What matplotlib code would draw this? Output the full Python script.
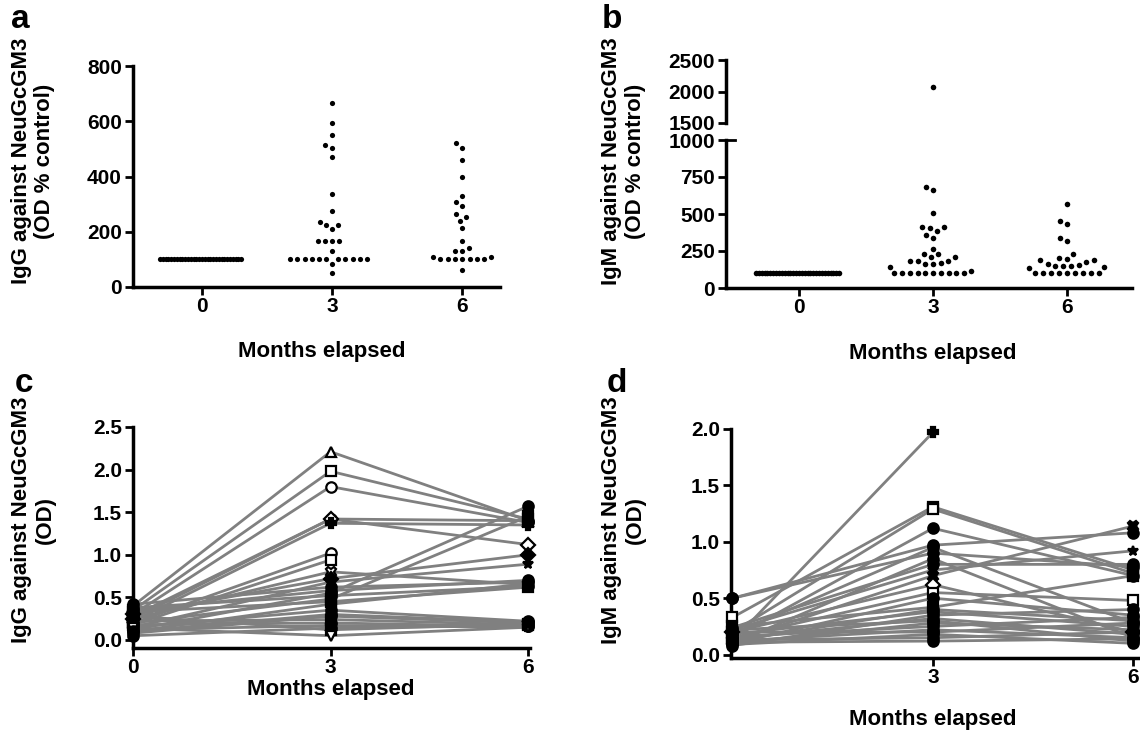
import numpy as np
import matplotlib
matplotlib.use("Agg")
import matplotlib.pyplot as plt
from matplotlib.transforms import blended_transform_factory

plt.rcParams['font.family'] = ['Liberation Sans', 'DejaVu Sans']
plt.rcParams['font.weight'] = 'bold'

nan = np.nan
# ---------------- data ----------------
month_labels = ['0', '3', '6']

# panel a: IgG (OD % control)
a_m0 = [100] * 30
a_m3 = [665, 595, 549, 513, 503, 469, 336, 274, 236, 225, 225, 209, 167, 167, 167, 167,
        132, 85, 51] + [100] * 11
a_m6 = [520, 504, 458, 397, 330, 307, 295, 263, 254, 240, 215, 166, 140, 129, 129, 109,
        108, 60] + [100] * 7

# panel b: IgM (OD % control)
b_m0 = [100] * 30
b_m3 = [2070, 680, 665, 505, 415, 405, 385, 410, 340, 360, 265, 228, 208, 212, 232, 185,
        172, 160, 145, 165, 180, 183, 115] + [100] * 10
b_m6 = [570, 430, 455, 340, 315, 232, 196, 205, 192, 176, 158, 147, 147, 147, 165, 187,
        142, 138] + [100] * 9

# panel c: IgG OD per subject
c_m0 = [0.40, 0.35, 0.30, 0.28, 0.25, 0.22, 0.20, 0.18, 0.25, 0.30, 0.15, 0.42, 0.12, 0.20,
        0.38, 0.10, 0.33, 0.15, 0.08, 0.22, 0.18, 0.12, 0.05, 0.28, 0.14, 0.10, 0.35]
c_m3 = [2.21, 1.98, 1.80, 1.42, 1.42, 1.37, 1.02, 0.94, 0.80, 0.72, 0.68, 0.62, 0.55, 0.48,
        0.52, 0.42, 0.45, 0.35, 0.28, 0.24, 0.20, 0.17, 0.14, 0.12, 0.05, 0.30, 0.58]
c_m6 = [1.40, 1.42, 1.38, 1.40, 1.12, 1.35, nan, nan, 0.65, 1.00, 0.89, 0.68, 1.57, 1.45,
        0.63, 0.66, 0.62, 0.22, 0.20, 0.18, 0.16, 0.15, 0.17, 0.19, 0.15, 0.21, 0.70]

# panel d: IgM OD per subject
d_m0 = [0.12, 0.33, 0.20, 0.15, 0.50, 0.50, 0.18, 0.10, 0.12, 0.22, 0.20, 0.15, 0.10, 0.25,
        0.12, 0.18, 0.08, 0.14, 0.22, 0.10, 0.16, 0.12, 0.20, 0.09, 0.13, 0.11, 0.24]
d_m3 = [1.97, 1.31, 1.29, 1.12, 0.97, 0.90, 0.95, 0.85, 0.70, 0.75, 0.62, 0.55, 0.50, 0.42,
        0.40, 0.38, 0.35, 0.32, 0.30, 0.28, 0.25, 0.22, 0.20, 0.18, 0.15, 0.12, 0.80]
d_m6 = [nan, 0.75, 0.72, 0.70, 1.08, 0.78, 0.28, 0.15, 1.14, 0.92, 0.20, 0.48, 0.35, 0.70,
        0.30, 0.25, 0.40, 0.18, 0.12, 0.22, 0.33, 0.15, 0.28, 0.10, 0.20, 0.14, 0.80]

# ---------------- helpers ----------------
W, H = 1140, 733
fig = plt.figure(figsize=(W / 100, H / 100), dpi=100)


def ax_px(l, t, r, b):
    return fig.add_axes([l / W, 1 - b / H, (r - l) / W, (b - t) / H])


def style(ax, bottom=True):
    for s in ['top', 'right']:
        ax.spines[s].set_visible(False)
    ax.spines['left'].set_linewidth(2.5)
    ax.spines['bottom'].set_linewidth(2.5)
    if not bottom:
        ax.spines['bottom'].set_visible(False)
    ax.tick_params(width=2, length=6, labelsize=15, pad=2)
    ax.tick_params(axis='x', pad=1)
    for lab in ax.get_xticklabels() + ax.get_yticklabels():
        lab.set_fontweight('bold')


def swarm(vals, px_per_unit, d_px=7.3, max_half=42.0):
    vals = np.asarray(vals, float)
    order = np.argsort(vals, kind='stable')
    placed = []
    offs = np.zeros(len(vals))
    for i in order:
        y = vals[i] * px_per_unit
        cands = [0.0]
        for xp, yp in placed:
            dy = abs(yp - y)
            if dy < d_px:
                dxx = np.sqrt(d_px ** 2 - dy ** 2)
                cands += [xp + dxx, xp - dxx]
        cands = sorted(cands, key=lambda c: (abs(c), c))
        chosen = cands[-1]
        for c in cands:
            if all((c - xp) ** 2 + (y - yp) ** 2 >= d_px ** 2 - 1e-6 for xp, yp in placed):
                chosen = c
                break
        placed.append((chosen, y))
        offs[i] = chosen
    m = np.max(np.abs(offs)) if len(offs) else 0
    if m > max_half:
        offs *= max_half / m
    return offs


# ---------------- panel a ----------------
axa = ax_px(133, 66, 500, 287)
axa.set_xlim(-0.53, 2.29)
axa.set_ylim(0, 800)
px_unit_a = 221 / 800
for k, vals in enumerate([a_m0, a_m3, a_m6]):
    offs = swarm(vals, px_unit_a) / 130.0
    axa.scatter(k + offs, vals, s=14, color='black', zorder=3, clip_on=False, linewidths=0)
axa.set_yticks([0, 200, 400, 600, 800])
axa.set_xticks([0, 1, 2])
axa.set_xticklabels(month_labels)
style(axa)

# ---------------- panel b (broken axis) ----------------
axb = ax_px(726, 140, 1132, 288)
axb_t = ax_px(726, 60, 1132, 123)
for a_ in (axb, axb_t):
    a_.set_xlim(-0.545, 2.485)
axb.set_ylim(0, 1000)
axb_t.set_ylim(1500, 2500)
px_unit_b = 148 / 1000
for k, vals in enumerate([b_m0, b_m3, b_m6]):
    v = np.asarray(vals, float)
    low = v[v <= 1000]
    high = v[v > 1000]
    offs = swarm(low, px_unit_b, d_px=8.0, max_half=43) / 134.0
    axb.scatter(k + offs, low, s=16, color='black', zorder=3, clip_on=False, linewidths=0)
    if len(high):
        axb_t.scatter(np.full(len(high), k), high, s=16, color='black', zorder=3,
                      clip_on=False, linewidths=0)
axb.set_yticks([0, 250, 500, 750, 1000])
axb.set_xticks([0, 1, 2])
axb.set_xticklabels(month_labels)
axb_t.set_yticks([1500, 2000, 2500])
axb_t.set_xticks([])
style(axb)
style(axb_t, bottom=False)
tr = blended_transform_factory(axb.transAxes, axb.transData)
axb.plot([0, 0.022], [1000, 1000], color='black', lw=2, transform=tr, clip_on=False)

# ---------------- panels c/d ----------------
mk_c = ['^', 's', 'o', 'o', 'D', 'P', 'o', 's', 'X', 'D', '*', 'o', 'o', 's', 'o', 'h', 's',
        'o', 'o', 's', 'o', 'p', 'o', 's', 'v', 'o', 'o']
open_c = {0, 1, 2, 3, 4, 6, 7, 8, 24}
mk_d = ['P', 's', 's', 'o', 'o', 'o', 'o', 'o', 'X', '*', 'D', 's', 'o', 's', 'o', 'o', 'o',
        'o', 'o', 'o', 'o', 'o', 'o', 'o', 'o', 'o', 'o']
open_d = {1, 2, 10, 11}

months = [0, 3, 6]


def draw_lines(ax, m0, m3, m6, mks, opens):
    for i in range(len(m0)):
        y = np.array([m0[i], m3[i], m6[i]], float)
        ax.plot(months, y, color='#808080', lw=2, zorder=2, clip_on=False)
    for i in range(len(m0)):
        y = np.array([m0[i], m3[i], m6[i]], float)
        fc = 'white' if i in opens else 'black'
        ax.plot(months, y, ls='none', marker=mks[i], ms=7.5, mfc=fc, mec='black',
                mew=1.6, zorder=3, clip_on=False)


axc = ax_px(133, 427, 530, 648)
axc.set_xlim(0, 6.03)
axc.set_ylim(-0.094, 2.5)
draw_lines(axc, c_m0, c_m3, c_m6, mk_c, open_c)
axc.set_yticks([0, 0.5, 1.0, 1.5, 2.0, 2.5])
axc.set_yticklabels(['0.0', '0.5', '1.0', '1.5', '2.0', '2.5'])
axc.set_xticks([0, 3, 6])
axc.set_xticklabels(month_labels)
style(axc)

axd = ax_px(731, 429, 1146, 658)
axd.set_xlim(-0.022, 6.19)
axd.set_ylim(-0.03, 2.0)
draw_lines(axd, d_m0, d_m3, d_m6, mk_d, open_d)
axd.set_yticks([0, 0.5, 1.0, 1.5, 2.0])
axd.set_yticklabels(['0.0', '0.5', '1.0', '1.5', '2.0'])
axd.set_xticks([3, 6])
axd.set_xticklabels(month_labels[1:])
style(axd)


# ---------------- text ----------------
def ftext(x, y, s, **kw):
    fig.text(x / W, 1 - y / H, s, ha='center', va='center', fontweight='bold', **kw)


ftext(20, 20, 'a', fontsize=24)
ftext(612, 20, 'b', fontsize=24)
ftext(24, 383, 'c', fontsize=24)
ftext(617, 383, 'd', fontsize=24)

ftext(22, 161, 'IgG against NeuGcGM3', fontsize=16, rotation=90)
ftext(45, 161, '(OD % control)', fontsize=16, rotation=90)
ftext(612, 161, 'IgM against NeuGcGM3', fontsize=16, rotation=90)
ftext(635, 161, '(OD % control)', fontsize=16, rotation=90)
ftext(22, 520, 'IgG against NeuGcGM3', fontsize=16, rotation=90)
ftext(45, 520, '(OD)', fontsize=16, rotation=90)
ftext(612, 520, 'IgM against NeuGcGM3', fontsize=16, rotation=90)
ftext(635, 520, '(OD)', fontsize=16, rotation=90)

ftext(322, 351, 'Months elapsed', fontsize=16)
ftext(933, 353, 'Months elapsed', fontsize=16)
ftext(331, 689, 'Months elapsed', fontsize=16)
ftext(933, 720, 'Months elapsed', fontsize=16)

fig.savefig('out.png', dpi=100)
